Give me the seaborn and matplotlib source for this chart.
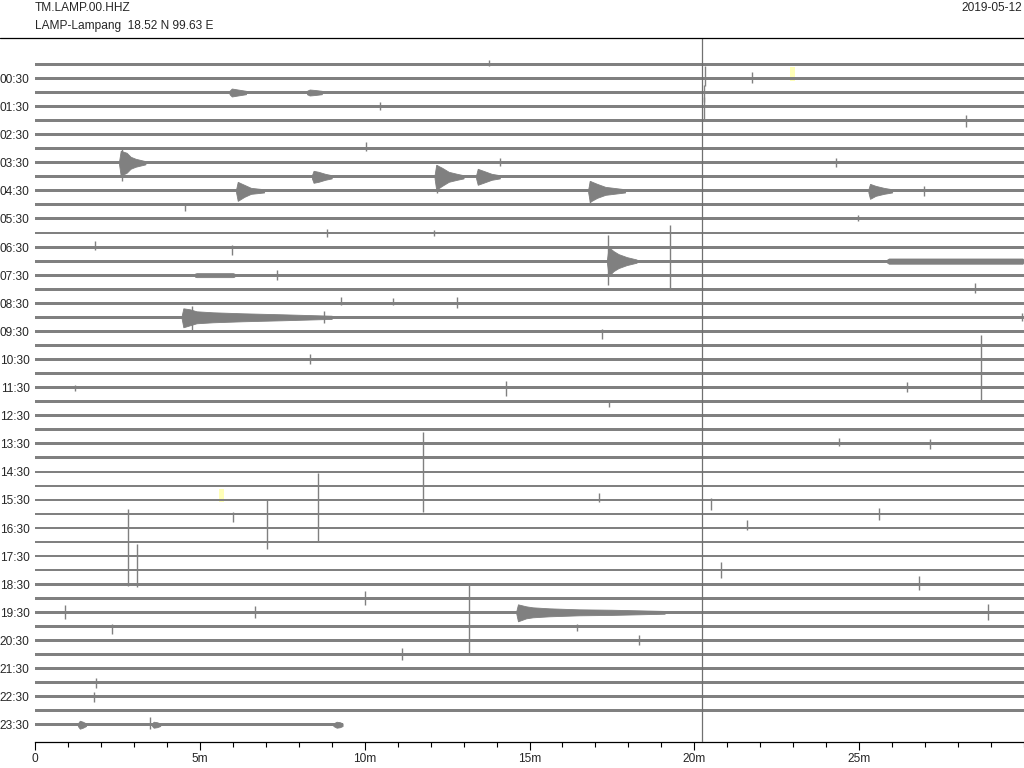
import numpy as np
import matplotlib
matplotlib.use("Agg")
import matplotlib.pyplot as plt
from matplotlib.lines import Line2D
from matplotlib.ticker import MultipleLocator, FixedLocator, FixedFormatter
import seaborn as sns

# -------------------------------------------------
# Style
# -------------------------------------------------
sns.set_theme(style="white")
plt.rcParams["font.family"] = ["Liberation Sans", "DejaVu Sans"]

TRACE_COLOR = "#808080"
PICK_COLOR = "#ffffb8"

# -------------------------------------------------
# Data (read off the helicorder)
# -------------------------------------------------
STATION = "TM.LAMP.00.HHZ"
SITE = "LAMP-Lampang  18.52 N 99.63 E"
DAY = "2019-05-12"

N_ROWS = 48            # one row per 30 minutes
ROW_MINUTES = 30
LAST_ROW_END = 9.33    # last row stops here (minutes)
MARKER_MIN = 20.24     # vertical marker

ROW_LABEL_POS = [1, 3, 5, 7, 9, 11, 13, 15, 17, 19, 21, 23,
                 25, 27, 29, 31, 33, 35, 37, 39, 41, 43, 45, 47]
ROW_LABELS = ["00:30", "01:30", "02:30", "03:30", "04:30", "05:30",
              "06:30", "07:30", "08:30", "09:30", "10:30", "11:30",
              "12:30", "13:30", "14:30", "15:30", "16:30", "17:30",
              "18:30", "19:30", "20:30", "21:30", "22:30", "23:30"]

# background noise half-width per row (trace units)
NOISE = [1.5, 1.5, 1.7, 1.7, 1.5, 1.5, 1.5, 1.6, 1.6, 1.6, 1.5, 1.5,
         1.5, 1.5, 1.6, 1.5, 1.5, 1.5, 1.6, 1.5, 1.4, 1.4, 1.4, 1.4,
         1.3, 1.3, 1.3, 1.4, 1.3, 1.3, 1.3, 1.3, 1.3, 1.3, 1.3, 1.3,
         1.3, 1.3, 1.3, 1.4, 1.3, 1.3, 1.3, 1.3, 1.3, 1.3, 1.3, 1.3]

# single spikes: row, minute, amplitude up, amplitude down
SPIKE_ROW = [0, 1, 1, 2, 3, 3, 4, 6, 7, 7, 9, 10, 11, 12, 12, 13, 13, 13,
             15, 16, 17, 17, 17, 18, 18, 19, 21, 22, 23, 23, 23, 24, 27, 27,
             29, 31, 31, 32, 32, 32, 33, 33, 34, 36, 36, 37, 38, 39, 39, 39,
             40, 40, 40, 41, 42, 44, 45, 47,
             7, 8, 9, 14, 18]
SPIKE_MIN = [13.76, 20.33, 21.76, 20.30, 10.45, 20.30, 28.24, 10.03, 14.10,
             24.30, 26.97, 4.55, 24.97, 8.85, 12.10, 19.27, 1.82, 5.97,
             7.33, 28.50, 9.27, 10.87, 12.80, 8.77, 29.95, 17.20, 8.35,
             28.70, 14.30, 26.45, 1.20, 17.40, 24.40, 27.15, 11.77, 17.10,
             20.50, 8.57, 6.00, 25.60, 7.03, 21.60, 2.82, 3.10, 20.80,
             26.80, 10.00, 0.90, 6.67, 28.90, 13.15, 2.33, 16.45, 18.33,
             11.12, 1.85, 1.80, 3.48,
             2.65, 12.20, 16.85, 17.38, 4.75]
SPIKE_UP = [4, 12, 6, 8, 5, 10, 6, 7, 5, 5, 5, 2, 4, 4, 3, 22, 6, 2,
            5, 6, 6, 5, 6, 6, 4, 2, 5, 39, 7, 6, 3, 2, 6, 5,
            40, 7, 2, 41, 2, 6, 29, 8, 33, 26, 8, 8, 7, 7, 6, 8,
            43, 2, 2, 5, 6, 5, 5, 8,
            14, 12, 10, 26, 11]
SPIKE_DOWN = [2, 8, 5, 10, 3, 12, 6, 2, 3, 4, 5, 6, 2, 4, 3, 43, 3, 8,
              5, 4, 2, 2, 5, 6, 4, 8, 5, 29, 8, 4, 3, 5, 2, 5,
              40, 2, 10, 28, 8, 6, 21, 2, 44, 17, 8, 6, 7, 7, 6, 8,
              27, 8, 5, 5, 6, 5, 5, 4,
              18, 16, 12, 24, 14]

# earthquakes / bursts: row, envelope times (min), upper and lower envelope
QUAKE_ROW = [2, 2, 7, 8, 8, 8, 9, 9, 9, 14, 14, 15, 18, 39, 47, 47, 47]
QUAKE_T = [
    [5.90, 5.97, 6.15, 6.40],
    [8.25, 8.33, 8.50, 8.70],
    [2.55, 2.60, 2.78, 2.90, 3.05, 3.35],
    [8.40, 8.45, 8.60, 8.80, 9.00],
    [12.12, 12.17, 12.35, 12.55, 12.80, 13.00],
    [13.38, 13.43, 13.60, 13.85, 14.10],
    [6.10, 6.15, 6.35, 6.55, 6.95],
    [16.78, 16.83, 17.05, 17.30, 17.90],
    [25.28, 25.33, 25.50, 25.75, 26.00],
    [17.35, 17.40, 17.55, 17.70, 17.95, 18.25],
    [25.85, 25.90, 29.95, 30.00],
    [4.85, 4.90, 6.00, 6.05],
    [4.45, 4.50, 4.70, 4.90, 5.40, 6.30, 7.50, 9.00],
    [14.60, 14.65, 14.90, 15.10, 15.60, 16.50, 17.50, 19.10],
    [1.30, 1.36, 1.45, 1.55],
    [3.55, 3.60, 3.70, 3.80],
    [9.05, 9.15, 9.25, 9.33],
]
QUAKE_UP = [
    [1.7, 4, 3, 1.7],
    [1.7, 3, 2.5, 1.7],
    [1.6, 12, 10, 6, 4, 1.6],
    [1.6, 6, 5, 3, 1.6],
    [1.6, 12, 9, 5, 3, 1.6],
    [1.6, 8, 6, 3, 1.6],
    [1.6, 9, 6, 3, 1.6],
    [1.6, 10, 7, 4, 1.6],
    [1.6, 7, 5, 3, 1.6],
    [1.6, 14, 10, 7, 4, 1.6],
    [1.6, 2.6, 2.6, 1.6],
    [1.5, 2.0, 2.0, 1.5],
    [1.6, 9, 8, 6, 5, 4, 3, 1.6],
    [1.4, 8, 6, 5, 4, 3, 2.6, 1.4],
    [1.3, 4, 3, 1.3],
    [1.3, 3, 2.5, 1.3],
    [1.3, 3, 2.5, 1.3],
]
QUAKE_DOWN = [
    [1.7, 4, 3, 1.7],
    [1.7, 3, 2.5, 1.7],
    [1.6, 13, 10, 6, 4, 1.6],
    [1.6, 6, 5, 3, 1.6],
    [1.6, 13, 9, 5, 3, 1.6],
    [1.6, 8, 6, 3, 1.6],
    [1.6, 10, 6, 3, 1.6],
    [1.6, 11, 7, 4, 1.6],
    [1.6, 8, 5, 3, 1.6],
    [1.6, 15, 10, 7, 4, 1.6],
    [1.6, 2.6, 2.6, 1.6],
    [1.5, 2.0, 2.0, 1.5],
    [1.6, 10, 8, 6, 5, 4, 3, 1.6],
    [1.4, 9, 6, 5, 4, 3, 2.6, 1.4],
    [1.3, 4, 3, 1.3],
    [1.3, 3, 2.5, 1.3],
    [1.3, 3, 2.5, 1.3],
]

# phase picks (pale yellow marks)
PICK_ROW = [1, 31]
PICK_MIN = [22.97, 5.67]

# trace units -> row units (one row is about 14 trace units tall)
SCALE = 1 / 14.08

# -------------------------------------------------
# Figure
# -------------------------------------------------
fig = plt.figure(figsize=(10.24, 7.68), dpi=100)
ax = fig.add_axes([35 / 1024, 26 / 768, 989 / 1024, 704 / 768])

# base trace of every row
for row in range(N_ROWS):
    end = LAST_ROW_END if row == N_ROWS - 1 else ROW_MINUTES
    hw = NOISE[row] * SCALE
    ax.fill_between([0, end], [row - hw, row - hw], [row + hw, row + hw],
                    color=TRACE_COLOR, lw=0, zorder=2)

# earthquake envelopes
for row, t, up, down in zip(QUAKE_ROW, QUAKE_T, QUAKE_UP, QUAKE_DOWN):
    up = np.asarray(up) * SCALE
    down = np.asarray(down) * SCALE
    ax.fill_between(t, row - up, row + down, color=TRACE_COLOR,
                    lw=0.6, edgecolor=TRACE_COLOR, zorder=2)

# spikes
ax.vlines(SPIKE_MIN,
          np.asarray(SPIKE_ROW) - np.asarray(SPIKE_UP) * SCALE,
          np.asarray(SPIKE_ROW) + np.asarray(SPIKE_DOWN) * SCALE,
          color=TRACE_COLOR, lw=1.0, zorder=2)

# pale yellow pick marks
ax.bar(PICK_MIN, 0.95, bottom=np.asarray(PICK_ROW) - 0.8, width=0.15,
       color=PICK_COLOR, lw=0, zorder=1)

# vertical marker
ax.axvline(MARKER_MIN, color="#707070", lw=0.9, zorder=3)

# -------------------------------------------------
# Axes
# -------------------------------------------------
ax.set_xlim(0, ROW_MINUTES)
ax.set_ylim(48.23, -1.88)

ax.xaxis.set_major_locator(FixedLocator([0, 5, 10, 15, 20, 25]))
ax.xaxis.set_major_formatter(FixedFormatter(["0", "5m", "10m", "15m", "20m", "25m"]))
ax.xaxis.set_minor_locator(MultipleLocator(1))
ax.tick_params(axis="x", which="major", direction="out", length=6, width=0.8,
               color="black", labelsize=8.6, pad=2, bottom=True)
ax.tick_params(axis="x", which="minor", direction="out", length=3.5, width=0.8,
               color="black", bottom=True)

ax.set_yticks(ROW_LABEL_POS)
ax.set_yticklabels(ROW_LABELS)
ax.tick_params(axis="y", length=0, labelsize=8.6, pad=4)

for side in ["top", "right", "left"]:
    ax.spines[side].set_visible(False)
ax.spines["bottom"].set_color("black")
ax.spines["bottom"].set_linewidth(0.9)
ax.grid(False)
ax.set_facecolor("white")

# header
fig.text(35 / 1024, 1 - 8 / 768, STATION, fontsize=8.6, va="center", ha="left")
fig.text(35 / 1024, 1 - 26 / 768, SITE, fontsize=8.6, va="center", ha="left")
fig.text(1022 / 1024, 1 - 8 / 768, DAY, fontsize=8.6, va="center", ha="right")
fig.add_artist(Line2D([0, 1], [1 - 38 / 768, 1 - 38 / 768],
                      transform=fig.transFigure, color="black", lw=0.9))

fig.savefig("out.png", dpi=100, facecolor="white")
